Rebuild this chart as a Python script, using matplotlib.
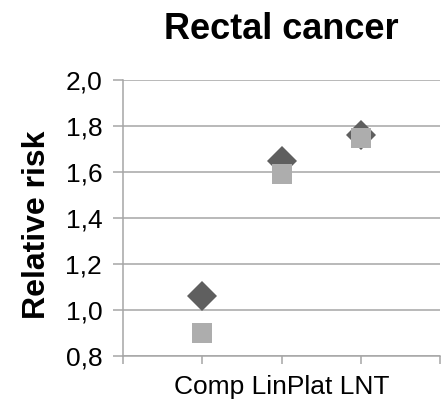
import matplotlib
matplotlib.use("Agg")
import matplotlib.pyplot as plt
from matplotlib.ticker import FixedLocator, FuncFormatter

plt.rcParams['font.family'] = ['Liberation Sans', 'DejaVu Sans']

# Relative risk of rectal cancer under three dose-response models
categories = ["Comp", "LinPlat", "LNT"]
series_a = [1.06, 1.65, 1.76]   # dark diamonds
series_b = [0.90, 1.59, 1.75]   # light squares
y_ticks = [0.8, 1.0, 1.2, 1.4, 1.6, 1.8, 2.0]

title = "Rectal cancer"
y_title = "Relative risk"

fig = plt.figure(figsize=(4.45, 4.01), dpi=100)
ax = fig.add_axes([0.2764, 0.1122, 0.7124, 0.6883])

xpos = list(range(1, len(categories) + 1))
grid_col = "#a6a6a6"

ax.plot(xpos, series_a, linestyle="none", marker="D", markersize=15.2,
        color="#5f5f5f", markeredgewidth=0, zorder=3)
ax.plot(xpos, series_b, linestyle="none", marker="s", markersize=14.4,
        color="#adadad", markeredgewidth=0, zorder=4)

ax.set_xlim(0, len(categories) + 1)
ax.set_ylim(y_ticks[0], y_ticks[-1])

ax.yaxis.set_major_locator(FixedLocator(y_ticks))
ax.yaxis.set_major_formatter(FuncFormatter(lambda v, p: f"{v:.1f}".replace(".", ",")))
ax.xaxis.set_major_locator(FixedLocator(range(0, len(categories) + 2)))
ax.set_xticklabels([])

ax.grid(axis="y", color=grid_col, linewidth=1.1, zorder=1)
ax.set_axisbelow(True)
for side in ("top", "right"):
    ax.spines[side].set_visible(False)
for side in ("left", "bottom"):
    ax.spines[side].set_color(grid_col)
    ax.spines[side].set_linewidth(1.1)

ax.tick_params(axis="y", direction="out", length=7, width=1.1, color=grid_col,
               labelsize=19, pad=8, labelcolor="black")
ax.tick_params(axis="x", direction="out", length=6, width=1.1, color=grid_col)

ax.set_title(title, fontsize=26, fontweight="bold", y=1.182, pad=0, va="center")
ax.set_ylabel(y_title, fontsize=23, fontweight="bold",
              va="center", ha="center", rotation_mode="default")
ax.yaxis.set_label_coords(-0.271, 0.475)
ax.set_xlabel(" ".join(categories), fontsize=19, va="center")
ax.xaxis.set_label_coords(0.5016, -0.112)

fig.savefig("out.png", dpi=100)
